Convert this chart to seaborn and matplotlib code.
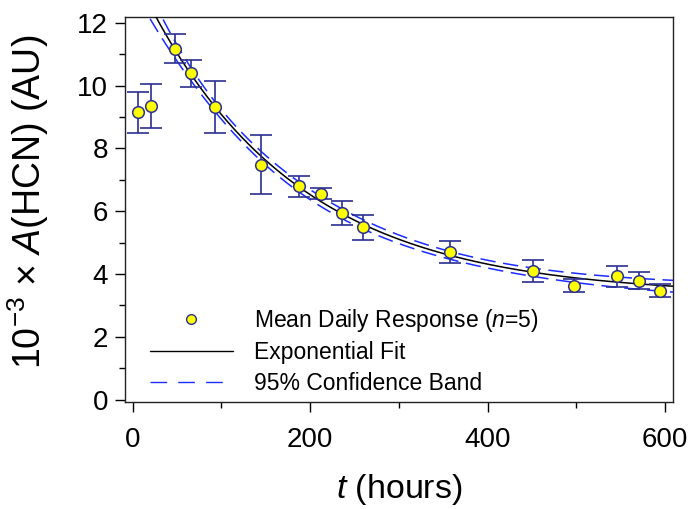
import numpy as np
import pandas as pd
import seaborn as sns
import matplotlib
matplotlib.use("Agg")
import matplotlib.pyplot as plt
from matplotlib.ticker import MultipleLocator
from matplotlib.lines import Line2D

# ---- data ----
t_hours = [5.6, 20.3, 47.4, 66.1, 92.4, 144.7, 187.0, 212.7, 236.0, 259.7,
           357.4, 451.3, 497.5, 546.4, 570.8, 594.9]
mean_resp = [9.15, 9.36, 11.18, 10.40, 9.31, 7.48, 6.79, 6.56, 5.94, 5.49,
             4.69, 4.09, 3.63, 3.93, 3.79, 3.47]
err_resp = [0.65, 0.70, 0.46, 0.43, 0.82, 0.93, 0.33, 0.18, 0.37, 0.40,
            0.35, 0.35, 0.20, 0.33, 0.28, 0.21]
fit_from_index = 2   # first two days are not part of the fit

x_ticks = [0, 200, 400, 600]
y_ticks = [0, 2, 4, 6, 8, 10, 12]

sns.set_style("ticks")
plt.rcParams['font.family'] = ['Liberation Sans', 'DejaVu Sans']
plt.rcParams['mathtext.fontset'] = 'custom'
plt.rcParams['mathtext.rm'] = 'Liberation Sans'
plt.rcParams['mathtext.it'] = 'Liberation Sans:italic'
plt.rcParams['text.color'] = 'black'
plt.rcParams['axes.labelcolor'] = 'black'
plt.rcParams['xtick.color'] = 'black'
plt.rcParams['ytick.color'] = 'black'

# ---- exponential fit y = c + a*exp(-t/tau), least squares ----
t = np.array(t_hours)
y = np.array(mean_resp)
tf, yf = t[fit_from_index:], y[fit_from_index:]
best = None
for tau in np.linspace(50, 600, 5501):
    X = np.column_stack([np.exp(-tf / tau), np.ones_like(tf)])
    coef, *_ = np.linalg.lstsq(X, yf, rcond=None)
    sse = np.sum((X @ coef - yf) ** 2)
    if best is None or sse < best[0]:
        best = (sse, tau, coef)
sse, tau, (a, c) = best
dof = len(tf) - 3
s2 = sse / dof
def grad(tt):
    e = np.exp(-tt / tau)
    return np.column_stack([e, np.ones_like(tt), a * tt / tau ** 2 * e])
J = grad(tf)
cov = s2 * np.linalg.inv(J.T @ J)
tgrid = np.linspace(0, 610, 400)
yfit = c + a * np.exp(-tgrid / tau)
G = grad(tgrid)
se = np.sqrt(np.einsum('ij,jk,ik->i', G, cov, G))
tcrit = 2.201
fit_df = pd.DataFrame({"t": tgrid, "fit": yfit,
                       "lo": yfit - tcrit * se, "hi": yfit + tcrit * se})
pts = pd.DataFrame({"t": t, "y": y, "e": err_resp})

navy = "#2b2f8f"
blue = "#1a2cff"

fig = plt.figure(figsize=(6.93, 5.09), dpi=100)
ax = fig.add_axes([0.180, 0.210, 0.791, 0.757])

sns.lineplot(data=fit_df, x="t", y="fit", ax=ax, color="black", lw=1.1, zorder=3)
for col in ["lo", "hi"]:
    sns.lineplot(data=fit_df, x="t", y=col, ax=ax, color=blue, lw=1.1,
                 dashes=False, zorder=3).lines[-1].set_dashes((10, 5))
ax.errorbar(pts["t"], pts["y"], yerr=pts["e"], fmt="none", ecolor=navy,
            elinewidth=1.2, capsize=8, capthick=1.2, zorder=4)
sns.scatterplot(data=pts, x="t", y="y", ax=ax, s=70, color="#ffff00",
                edgecolor=navy, linewidth=1.1, zorder=5)

ax.set_xlim(-9, 609)
ax.set_ylim(-0.08, 12.19)
ax.set_xticks(x_ticks)
ax.set_yticks(y_ticks)
ax.xaxis.set_minor_locator(MultipleLocator(100))
ax.yaxis.set_minor_locator(MultipleLocator(1))
ax.tick_params(axis='both', which='major', direction='out', length=7,
               width=1, labelsize=20, color="black", labelcolor="black")
ax.tick_params(axis='both', which='minor', direction='out', length=4,
               width=1, color="black")
ax.tick_params(axis='x', pad=11)
ax.tick_params(axis='y', pad=5)
for sp in ax.spines.values():
    sp.set_visible(True)
    sp.set_linewidth(1.0)
    sp.set_color("#222222")

ax.set_xlabel(r"$\it{t}$ (hours)", fontsize=24.5)
ax.set_ylabel(r"10$^{-3}$ × $\it{A}$(HCN) (AU)", fontsize=27)
ax.xaxis.set_label_coords(0.5, -0.182)
ax.yaxis.set_label_coords(-0.135, 0.52)

handles = [
    Line2D([], [], ls="none", marker="o", markersize=7, markerfacecolor="#ffff00",
           markeredgecolor=navy, markeredgewidth=1.0),
    Line2D([], [], color="black", lw=1.0),
    Line2D([], [], color=blue, lw=1.0, dashes=(12, 8)),
]
labels = [r"Mean Daily Response ($\it{n}$=5)", "Exponential Fit",
          "95% Confidence Band"]
fig.legend(handles, labels, loc="upper left", bbox_to_anchor=(0.186, 0.438),
           bbox_transform=fig.transFigure, frameon=False, fontsize=16.5,
           handlelength=3.65, handletextpad=0.9, labelspacing=0.33)

fig.savefig("out.png", dpi=100)
